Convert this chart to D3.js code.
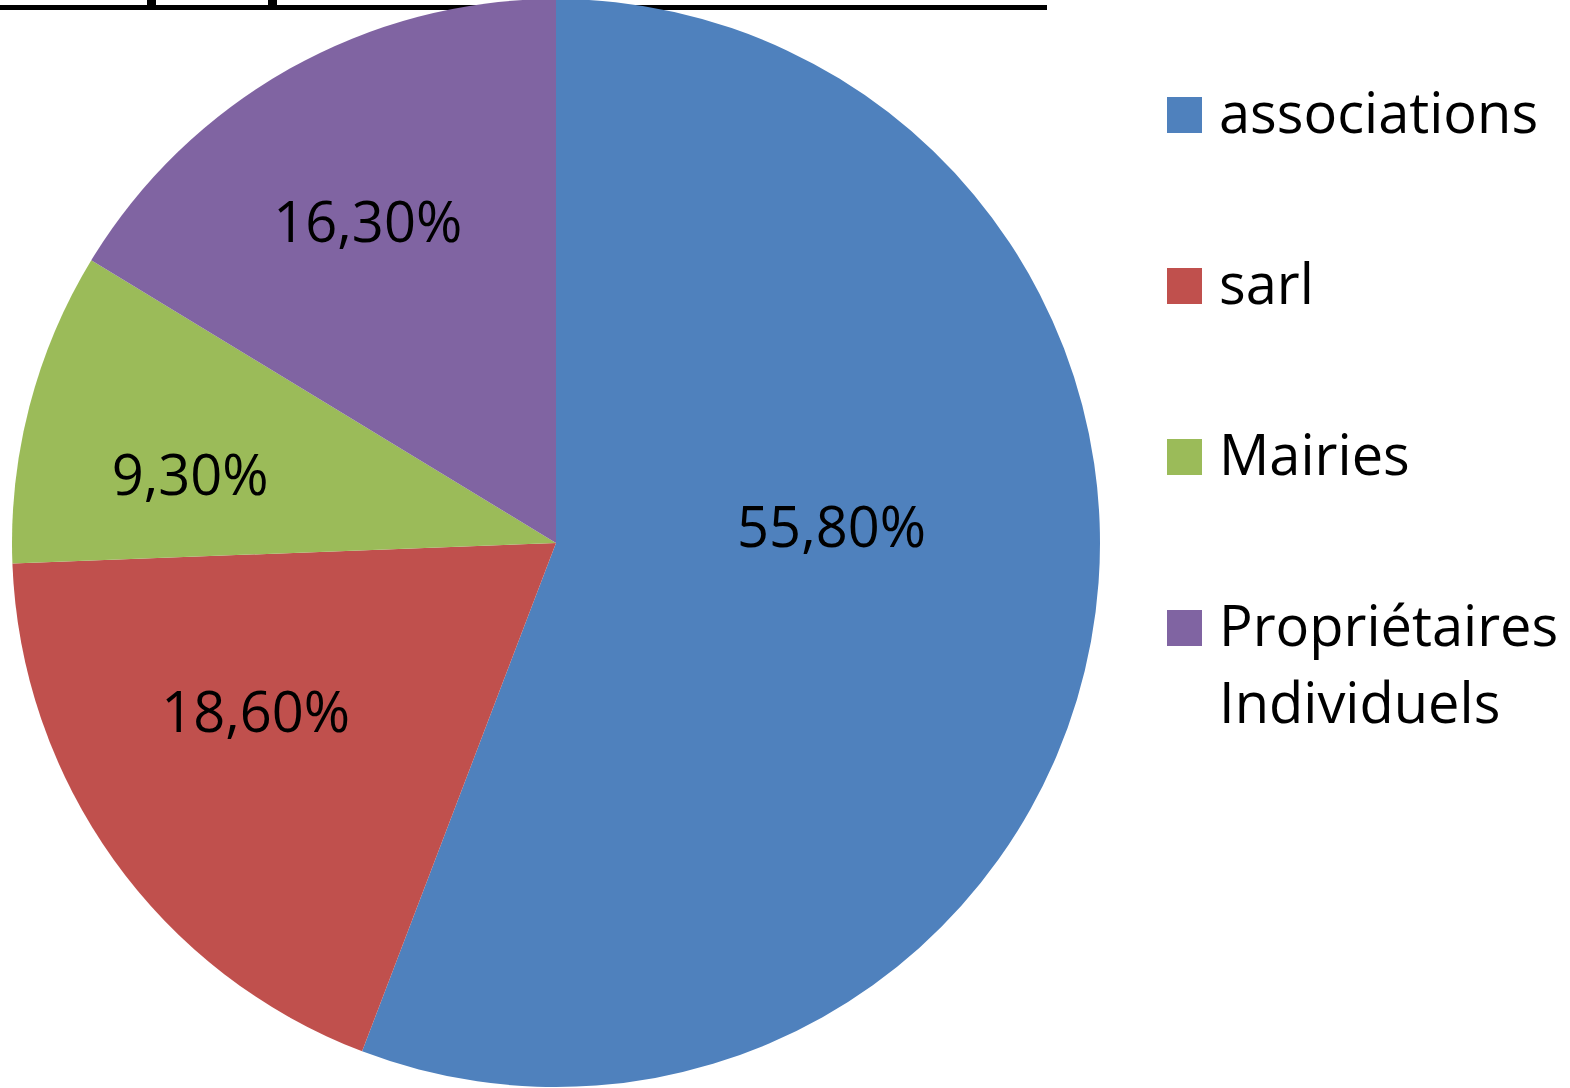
<!DOCTYPE html>
<html>
<head>
<meta charset="utf-8">
<script src="https://cdn.jsdelivr.net/npm/d3@7"></script>
<style>
  body { margin: 0; background: #fff; }
  svg { display: block; font-family: "Open Sans", sans-serif; }
</style>
</head>
<body>
<svg id="chartSvg" width="1570" height="1088"></svg>
<script>
// Data
const categories = ["associations", "sarl", "Mairies", "Propriétaires Individuels"];
const shares = [55.8, 18.6, 9.3, 16.3];
const labels = ["55,80%", "18,60%", "9,30%", "16,30%"];
const colors = ["#4F81BD", "#C0504D", "#9BBB59", "#8064A2"];

const svg = d3.select("#chartSvg");

// Remains of the title that is cut off at the top: underline and two descenders
svg.append("rect").attr("x", 0).attr("y", 5).attr("width", 1047).attr("height", 5).attr("fill", "#000");
[147, 268].forEach(x => {
    svg.append("rect").attr("x", x).attr("y", 0).attr("width", 9).attr("height", 10).attr("fill", "#000");
});

// Pie
const cx = 556, cy = 543, r = 544;
const pie = d3.pie().sort(null).value(d => d)(shares);
const arc = d3.arc().innerRadius(0).outerRadius(r);

const g = svg.append("g").attr("transform", `translate(${cx}, ${cy})`);

g.selectAll("path")
    .data(pie)
    .enter()
    .append("path")
    .attr("d", arc)
    .attr("fill", (d, i) => colors[i]);

// Excel "best fit" style placement: angle (deg) and distance from centre for each label
const labelPlace = [[86.7, 276], [240.5, 345], [280.5, 372], [329.6, 372]];
g.selectAll("text")
    .data(pie)
    .enter()
    .append("text")
    .attr("x", (d, i) => labelPlace[i][1] * Math.sin(labelPlace[i][0] * Math.PI / 180))
    .attr("y", (d, i) => -labelPlace[i][1] * Math.cos(labelPlace[i][0] * Math.PI / 180))
    .attr("dy", "0.35em")
    .attr("text-anchor", "middle")
    .attr("font-size", "56px")
    .attr("fill", "#000")
    .text((d, i) => labels[i]);

// Legend
const legend = svg.append("g").attr("transform", "translate(1167, 97)");
const item = legend.selectAll("g")
    .data(categories)
    .enter()
    .append("g")
    .attr("transform", (d, i) => `translate(0, ${i * 171})`);

item.append("rect")
    .attr("width", 35)
    .attr("height", 36)
    .attr("fill", (d, i) => colors[i]);

item.append("text")
    .attr("x", 52)
    .attr("font-size", "56px")
    .attr("fill", "#000")
    .each(function(d) {
        const words = d === "Propriétaires Individuels" ? ["Propriétaires", "Individuels"] : [d];
        d3.select(this).selectAll("tspan")
            .data(words)
            .enter()
            .append("tspan")
            .attr("x", 52)
            .attr("y", (w, j) => 36 + j * 77)
            .text(w => w);
    });
</script>
</body>
</html>
